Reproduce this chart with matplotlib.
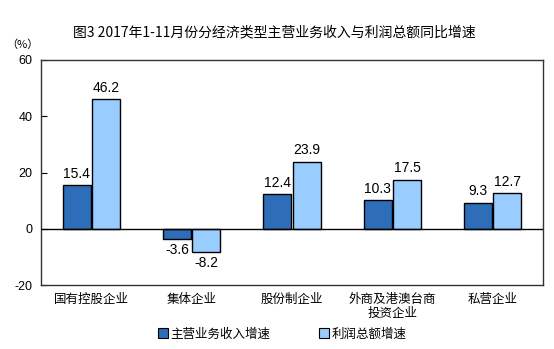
import numpy as np
import matplotlib.pyplot as plt
from matplotlib.lines import Line2D

plt.rcParams['font.family'] = ['Liberation Sans', 'Noto Sans CJK SC', 'DejaVu Sans']

categories = ['国有控股企业', '集体企业', '股份制企业', '外商及港澳台商\n投资企业', '私营企业']
revenue = [15.4, -3.6, 12.4, 10.3, 9.3]
profit = [46.2, -8.2, 23.9, 17.5, 12.7]
series_names = ['主营业务收入增速', '利润总额增速']
yticks = [-20, 0, 20, 40, 60]

DARK = '#2E6DB8'
LIGHT = '#99CCFF'

fig = plt.figure(figsize=(5.54, 3.49), dpi=100)
ax = fig.add_axes([41 / 554, 1 - 285 / 349, 502 / 554, 225 / 349])

x = np.arange(len(categories))
w = 0.28
for vals, color, off in [(revenue, DARK, -0.145), (profit, LIGHT, 0.145)]:
    ax.bar(x + off, vals, width=w, color=color, edgecolor='black', linewidth=1.0, zorder=3)
    for xi, v in zip(x + off, vals):
        if v >= 0:
            ax.text(xi, v + 1.5, f'{v:.1f}', ha='center', va='bottom', fontsize=10)
        else:
            ax.text(xi, v - 1.5, f'{v:.1f}', ha='center', va='top', fontsize=10)

ax.axhline(0, color='black', linewidth=1.0, zorder=4)
ax.set_xlim(-0.5, len(categories) - 0.5)
ax.set_ylim(-20, 60)
ax.set_yticks(yticks)
ax.set_yticklabels([str(t) for t in yticks], fontsize=9)
ax.tick_params(axis='y', direction='in', length=4, pad=6)
ax.tick_params(axis='x', length=0, pad=6)
ax.set_xticks(x)
ax.set_xticklabels(categories, fontsize=9, family=['Noto Sans CJK SC'], linespacing=1.1)
for s in ax.spines.values():
    s.set_linewidth(1.0)
    s.set_color('#333333')

fig.text(274 / 554, 1 - 32 / 349, '图3 2017年1-11月份分经济类型主营业务收入与利润总额同比增速',
         ha='center', va='center', fontsize=10, family=['Noto Sans CJK SC'])
fig.text(22 / 554, 1 - 45 / 349, '（%）', ha='center', va='center', fontsize=8,
         family=['Noto Sans CJK SC'])

handles = [Line2D([], [], marker='s', linestyle='none', markersize=7,
                  markerfacecolor=c, markeredgecolor='black', markeredgewidth=0.8)
           for c in (DARK, LIGHT)]
fig.legend(handles, series_names, loc='center', bbox_to_anchor=(0.508, 1 - 334 / 349),
           ncol=2, frameon=False, handletextpad=0.1, handlelength=1.0, columnspacing=3.8,
           prop={'family': 'Noto Sans CJK SC', 'size': 9})

fig.savefig('out.png', dpi=100)
